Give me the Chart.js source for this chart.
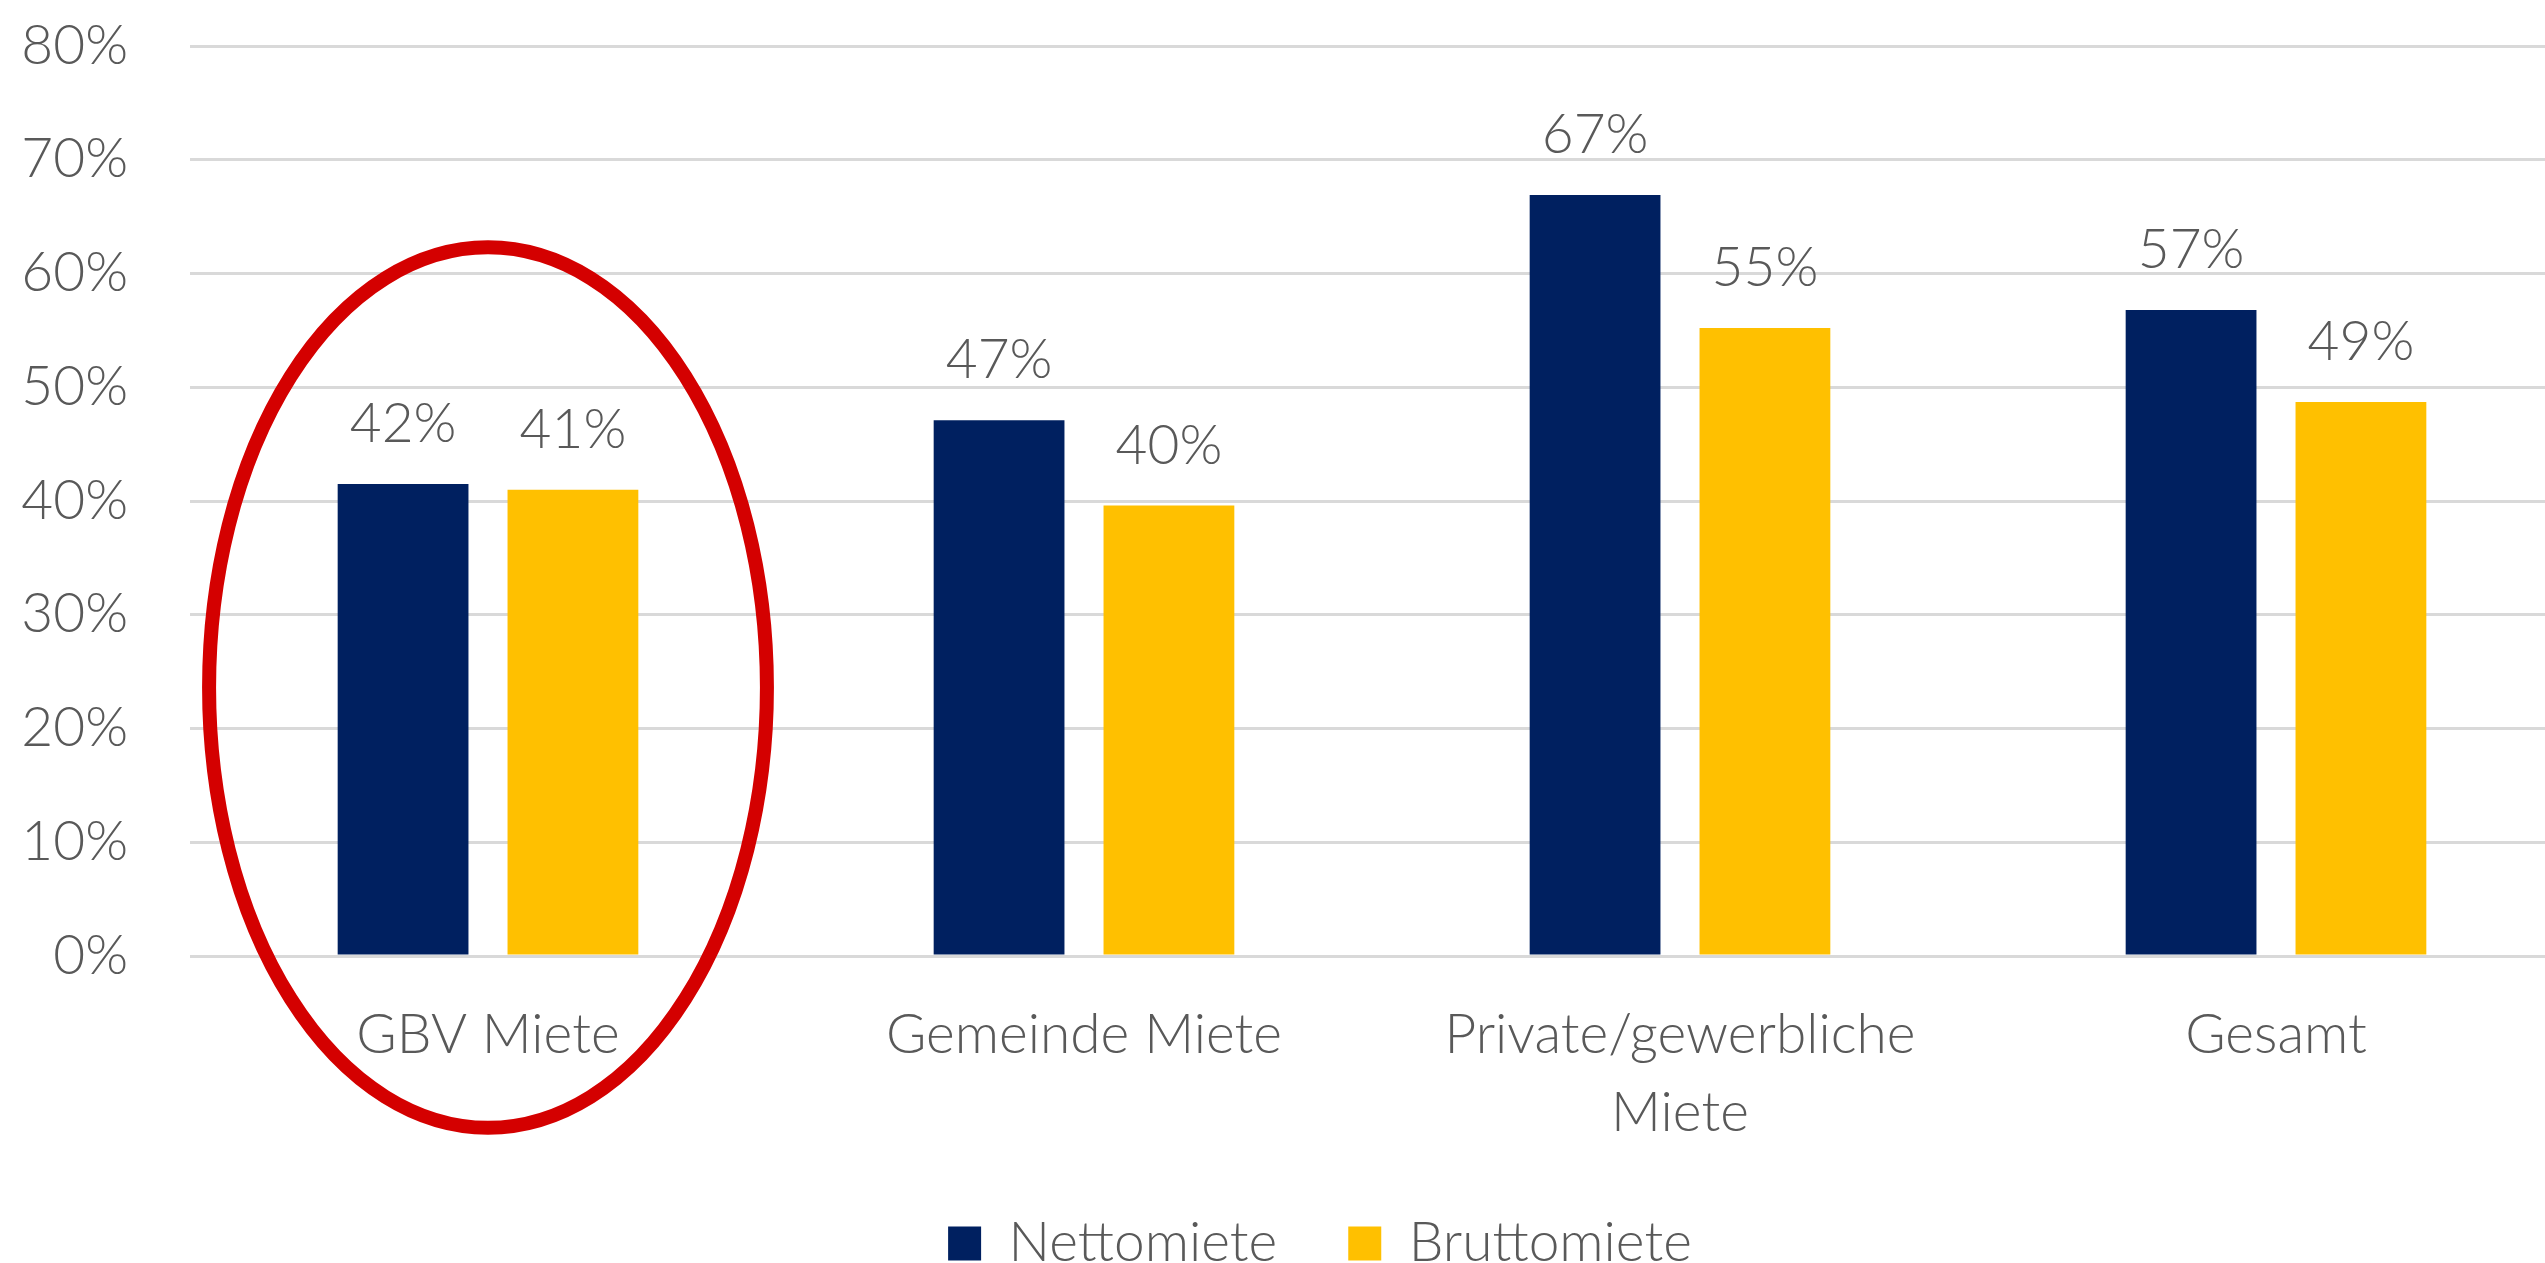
<!DOCTYPE html>
<html>
<head>
<meta charset="utf-8">
<script src="https://cdn.jsdelivr.net/npm/chart.js@4"></script>
<style>
  html, body { margin: 0; padding: 0; background: #fff; overflow: hidden; }
  #wrap { width: 2575px; height: 1276px; }
</style>
</head>
<body>
<div id="wrap"><canvas id="chart" width="2575" height="1276"></canvas></div>
<script>
// Data
const categories = ['GBV Miete', 'Gemeinde Miete', ['Private/gewerbliche', 'Miete'], 'Gesamt'];
const nettoValues = [41.5, 47.1, 66.9, 56.8];
const bruttoValues = [41.0, 39.6, 55.2, 48.7];
const yTicks = [0, 10, 20, 30, 40, 50, 60, 70, 80];

const FONT = '"Lato", "Open Sans", sans-serif';
const GREY = '#595959';

// Value labels above each bar
const valueLabels = {
  id: 'valueLabels',
  afterDatasetsDraw(chart) {
    const { ctx } = chart;
    ctx.save();
    ctx.font = `300 55px ${FONT}`;
    ctx.fillStyle = GREY;
    ctx.textAlign = 'center';
    ctx.textBaseline = 'alphabetic';
    chart.data.datasets.forEach((ds, i) => {
      chart.getDatasetMeta(i).data.forEach((bar, j) => {
        ctx.fillText(Math.round(ds.data[j]) + '%', bar.x, bar.y - 42);
      });
    });
    ctx.restore();
  }
};

// Red ring around the first group (in data units)
const highlight = { index: 0, yCenter: 23.6, rxCategories: 0.468, ryValue: 38.7 };
const ringPlugin = {
  id: 'ring',
  afterDraw(chart) {
    const { ctx, scales: { x, y } } = chart;
    const cx = x.getPixelForValue(highlight.index);
    const cy = y.getPixelForValue(highlight.yCenter);
    const catW = x.getPixelForValue(1) - x.getPixelForValue(0);
    const rx = catW * highlight.rxCategories;
    const ry = y.getPixelForValue(0) - y.getPixelForValue(highlight.ryValue);
    ctx.save();
    ctx.strokeStyle = '#d40000';
    ctx.lineWidth = 14;
    ctx.beginPath();
    ctx.ellipse(cx, cy, rx, ry, 0, 0, Math.PI * 2);
    ctx.stroke();
    ctx.restore();
  }
};

// nudge the legend a bit to the right, like the original
const legendShift = {
  id: 'legendShift',
  afterLayout(chart) {
    if (chart.legend) chart.legend.left += 66;
  }
};

new Chart(document.getElementById('chart'), {
  type: 'bar',
  data: {
    labels: categories,
    datasets: [
      {
        label: 'Nettomiete',
        data: nettoValues,
        backgroundColor: '#002060',
        categoryPercentage: 0.57,
        barPercentage: 0.77,
      },
      {
        label: 'Bruttomiete',
        data: bruttoValues,
        backgroundColor: '#ffc000',
        categoryPercentage: 0.57,
        barPercentage: 0.77,
      }
    ]
  },
  options: {
    responsive: false,
    devicePixelRatio: 1,
    animation: false,
    layout: { padding: { top: 46, right: 1, left: 0, bottom: 0 } },
    plugins: {
      tooltip: { enabled: false },
      legend: {
        position: 'bottom',
        maxHeight: 131,
        labels: {
          boxWidth: 33,
          boxHeight: 34,
          padding: 71,
          color: GREY,
          font: { family: FONT, size: 55, weight: 300 },
        }
      }
    },
    scales: {
      x: {
        afterFit: (scale) => { scale.height = 189; },
        grid: { display: false },
        border: { display: false },
        ticks: {
          color: GREY,
          padding: 32,
          maxRotation: 0,
          autoSkip: false,
          font: { family: FONT, size: 55, weight: 300, lineHeight: 1.42 },
        }
      },
      y: {
        min: 0,
        max: 80,
        afterFit: (scale) => {
          scale.width = 190;
          // tick padding would otherwise push the plot down
          scale.paddingTop = 30;
          scale.paddingBottom = 30;
        },
        afterBuildTicks: (scale) => { scale.ticks = yTicks.map(v => ({ value: v })); },
        grid: { color: '#d9d9d9', lineWidth: 3, drawTicks: false },
        border: { display: false },
        ticks: {
          color: GREY,
          padding: 62,
          font: { family: FONT, size: 55, weight: 300 },
          callback: (val) => val + '%',
        }
      }
    }
  },
  plugins: [valueLabels, ringPlugin, legendShift]
});
</script>
</body>
</html>
